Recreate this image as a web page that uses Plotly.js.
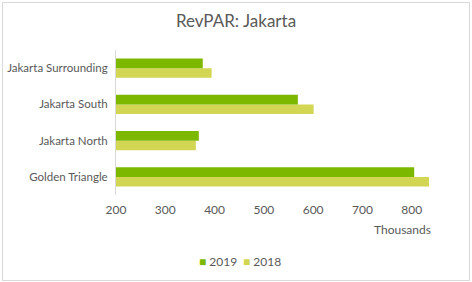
<!DOCTYPE html>
<html><head><meta charset="utf-8">
<script src="https://cdn.plot.ly/plotly-3.0.1.min.js"></script>
<style>
html,body{margin:0;padding:0;background:#fff;}
#wrap{position:absolute;left:2px;top:2px;width:466px;height:277px;border:1px solid #d9d9d9;}
#chart{position:absolute;left:0;top:0;width:472px;height:282px;}
</style></head>
<body>
<div id="wrap"></div>
<div id="chart"></div>
<script>
const categories = ["Golden Triangle", "Jakarta North", "Jakarta South", "Jakarta Surrounding"];
const values2019 = [805, 368, 569, 376];
const values2018 = [835, 362, 601, 394];
const xTicks = [200, 300, 400, 500, 600, 700, 800];
const seriesNames = ["2019", "2018"];
const seriesColors = ["#7cb800", "#d2d653"];

const fam = "Lato, 'Open Sans', sans-serif";
const grey = "#595959";

const traces = [
  {type: "bar", orientation: "h", name: seriesNames[1], y: categories, x: values2018,
   marker: {color: seriesColors[1]}},
  {type: "bar", orientation: "h", name: seriesNames[0], y: categories, x: values2019,
   marker: {color: seriesColors[0]}}
];

const legendAnn = seriesNames.map((n, i) => ({
  text: '<span style="color:' + seriesColors[i] + '">■</span> ' + n,
  xref: "paper", yref: "paper", x: [0.235, 0.362][i], y: -0.46,
  xanchor: "left", yanchor: "middle", showarrow: false,
  font: {family: fam, size: 12, color: grey}
}));

const layout = {
  width: 472, height: 282,
  margin: {l: 116, r: 11, t: 50, b: 87},
  paper_bgcolor: "rgba(0,0,0,0)", plot_bgcolor: "rgba(0,0,0,0)",
  font: {family: fam, color: grey, size: 12},
  title: {text: "RevPAR: Jakarta", font: {family: fam, size: 17, color: grey},
          x: 0.5, xanchor: "center", y: 0.925, yanchor: "middle", yref: "container"},
  barmode: "group", bargap: 0.47, bargroupgap: 0,
  xaxis: {range: [200, 900], tickvals: xTicks, ticktext: xTicks.map(String),
          showgrid: false, zeroline: false, showline: false, ticks: "", fixedrange: true,
          ticklabelstandoff: 6, tickfont: {family: fam, size: 12, color: grey}},
  yaxis: {showgrid: false, zeroline: false, showline: true, linecolor: "#d9d9d9", linewidth: 1,
          ticks: "", ticklabelstandoff: 5, tickfont: {family: fam, size: 11.5, color: grey}},
  showlegend: false,
  annotations: [{text: "Thousands", xref: "paper", yref: "paper", x: 0.92, y: -0.235,
                 xanchor: "right", yanchor: "middle", showarrow: false,
                 font: {family: fam, size: 12, color: grey}}].concat(legendAnn)
};

Plotly.newPlot("chart", traces, layout, {displayModeBar: false, staticPlot: true});
</script>
</body></html>
